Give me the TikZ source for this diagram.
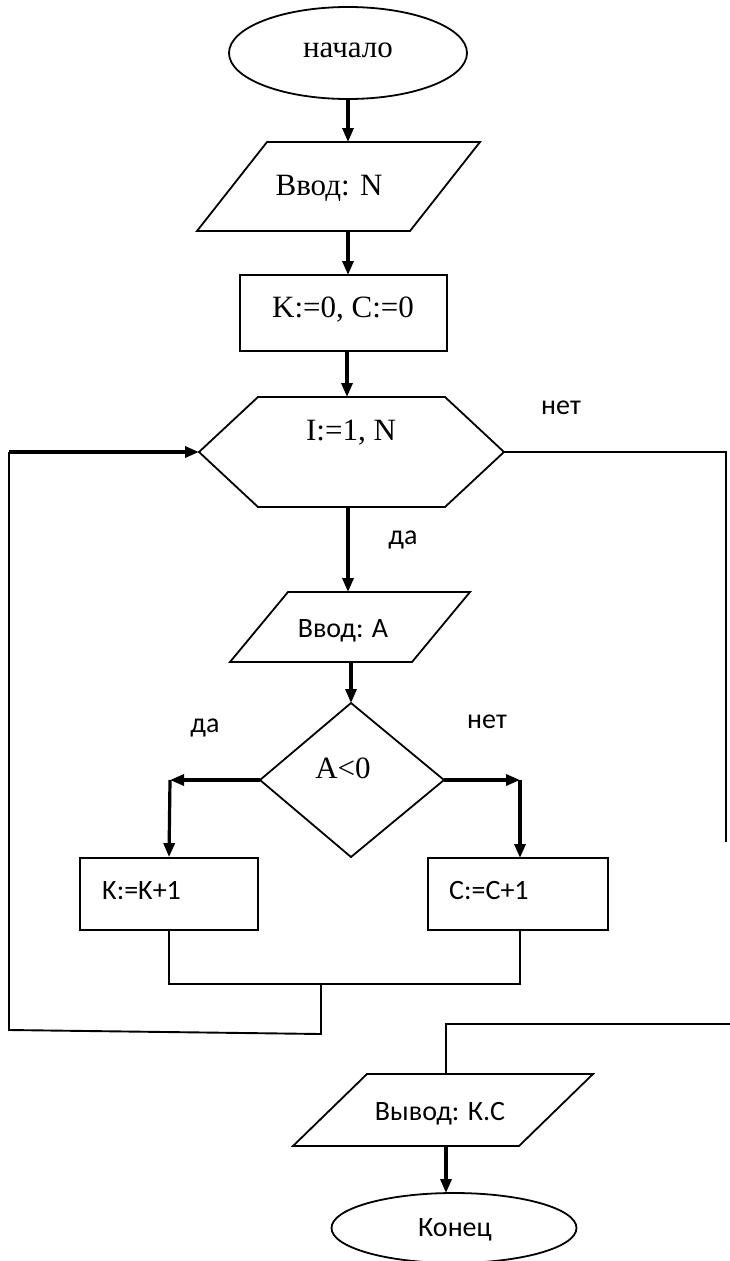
\documentclass[tikz,border=0pt]{standalone}
\usepackage{fontspec}
\newfontfamily\serw{Liberation Serif}
\newfontfamily\sanw{Carlito}
\usetikzlibrary{shapes.geometric,arrows.meta}
\begin{document}
\begin{tikzpicture}[x=1pt,y=-1pt,
  bord/.style={line width=1.8pt},
  arr/.style={line width=3.2pt,-{Triangle[length=14pt,width=11pt]}},
  lnk/.style={line width=1.9pt},
  sr/.style={font=\serw\fontsize{31}{36}\selectfont, inner sep=0},
  sa/.style={font=\sanw\fontsize{28}{32}\selectfont, inner sep=0}]
\fill[white] (0,0) rectangle (730,1261);
\useasboundingbox (0,0) rectangle (730,1261);

% start
\node[draw,bord,ellipse,minimum width=238pt,minimum height=92pt,inner sep=0] (start) at (348,53) {};
\node[sr] (tstart) at (348,50) {начало};

% input N
\coordinate (nTL) at (267,142); \coordinate (nTR) at (480,142);
\coordinate (nBR) at (410,231); \coordinate (nBL) at (197,231);
\draw[bord] (nTL) -- (nTR) -- (nBR) -- (nBL) -- cycle;
\node[sr] (tinN) at (329,188) {Ввод: N};
\coordinate (nIn) at (348,142); \coordinate (nOut) at (348,231);

% init
\node[draw,bord,minimum width=207pt,minimum height=76pt,inner sep=0] (init) at (343.5,313) {};
\node[sr] (tinit) at (343,310) {K:=0, C:=0};
\coordinate (iIn) at (348,275); \coordinate (iOut) at (347,351);

% loop hexagon
\coordinate (hW) at (199,452); \coordinate (hTL) at (258,397); \coordinate (hTR) at (445,397);
\coordinate (hE) at (504,452); \coordinate (hBR) at (445,507); \coordinate (hBL) at (258,507);
\draw[bord] (hW) -- (hTL) -- (hTR) -- (hE) -- (hBR) -- (hBL) -- cycle;
\node[sr] (thex) at (351,433) {I:=1, N};
\coordinate (hIn) at (347,397); \coordinate (hOut) at (348,507);
\node[sa] (lnet1) at (561,408) {нет};
\node[sa] (lda1) at (403,540) {да};

% input A
\coordinate (aTL) at (288,592); \coordinate (aTR) at (470,592);
\coordinate (aBR) at (412,662); \coordinate (aBL) at (230,662);
\draw[bord] (aTL) -- (aTR) -- (aBR) -- (aBL) -- cycle;
\node[sa] (tinA) at (343,631) {Ввод: A};
\coordinate (aIn) at (348,592); \coordinate (aOut) at (351,662);

% decision
\coordinate (dN) at (351,703); \coordinate (dE) at (444,780);
\coordinate (dS) at (351,857); \coordinate (dW) at (260,780);
\draw[bord] (dN) -- (dE) -- (dS) -- (dW) -- cycle;
\node[sr] (tdec) at (343,768) {A<0};
\node[sa] (lda2) at (205,728) {да};
\node[sa] (lnet2) at (487,722) {нет};
\coordinate (cL) at (170,780); \coordinate (cR) at (520,780);

% boxes
\node[draw,bord,minimum width=178pt,minimum height=72pt,inner sep=0] (kbox) at (169,894) {};
\node[sa,anchor=west] (tk) at (102,891) {K:=K+1};
\node[draw,bord,minimum width=180pt,minimum height=72pt,inner sep=0] (cbox) at (518,894) {};
\node[sa,anchor=west] (tc) at (449,891) {C:=C+1};
\coordinate (kOut) at (169,930); \coordinate (cOut) at (520,930); \coordinate (cIn) at (520,858);

% merge and loop back
\coordinate (mL) at (169,984); \coordinate (mR) at (520,984); \coordinate (mJ) at (321,984);
\coordinate (lB) at (321,1034); \coordinate (lBL) at (9,1030); \coordinate (lTL) at (9,452);
\draw[lnk] (kOut) -- (mL) -- (mR) -- (cOut);
\draw[lnk] (mJ) -- (lB) -- (lBL) -- (lTL);

% exit branch
\coordinate (rT) at (726,452); \coordinate (rB) at (726,842);
\draw[lnk] (hE) -- (rT) -- (rB);
\coordinate (bR) at (730,1024); \coordinate (bL) at (446,1024);

% output
\coordinate (oTL) at (367,1074); \coordinate (oTR) at (593,1074);
\coordinate (oBR) at (519,1146); \coordinate (oBL) at (293,1146);
\draw[bord] (oTL) -- (oTR) -- (oBR) -- (oBL) -- cycle;
\node[sa] (tout) at (440,1114) {Вывод: К.С};
\coordinate (oIn) at (446,1074); \coordinate (oOut) at (446,1146);
\draw[lnk] (bR) -- (bL) -- (oIn);

% end
\node[draw,bord,ellipse,minimum width=245pt,minimum height=70pt,inner sep=0] (endn) at (454,1228) {};
\node[sa] (tend) at (455,1230) {Конец};
\coordinate (eIn) at (446,1193);

% arrows
\draw[arr] (start.south) -- (nIn);
\draw[arr] (nOut) -- (iIn);
\draw[arr] (iOut) -- (hIn);
\draw[arr] (lTL) -- (hW);
\draw[arr] (hOut) -- (aIn);
\draw[arr] (aOut) -- (dN);
\draw[arr] (dW) -- (cL);
\draw[arr] (cL) -- (kbox.north);
\draw[arr] (dE) -- (cR);
\draw[arr] (cR) -- (cIn);
\draw[arr] (oOut) -- (eIn);
\end{tikzpicture}
\end{document}
